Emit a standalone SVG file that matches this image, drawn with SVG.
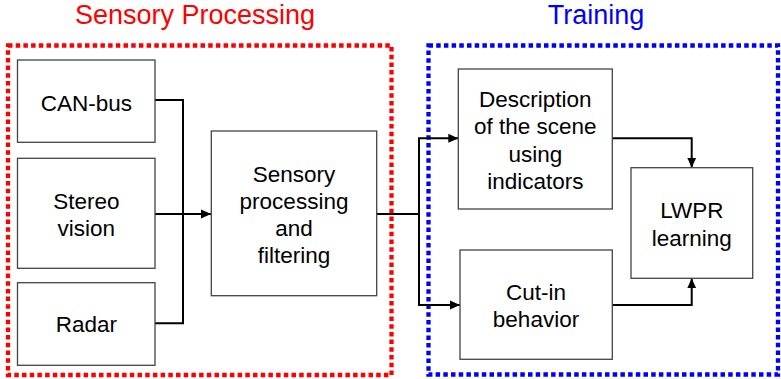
<svg xmlns="http://www.w3.org/2000/svg" width="781" height="379" viewBox="0 0 781 379">
  <style>
    .title { font-family: "Liberation Sans", Arial, sans-serif; font-size: 27px; text-anchor: middle; }
    .label { font-family: "Liberation Sans", Arial, sans-serif; font-size: 22.5px; text-anchor: middle; fill: #000; }
    .box { fill: #fff; stroke: #444; stroke-width: 1.3; }
    .group { fill: none; stroke-width: 4.3; stroke-dasharray: 4.5 3.2; }
    .wire { fill: none; stroke: #000; stroke-width: 2; }
  </style>
  <defs>
    <marker id="arrow" viewBox="0 0 10 10" refX="10" refY="5" markerWidth="10" markerHeight="10" markerUnits="userSpaceOnUse" orient="auto">
      <path d="M0,0.5 L10,5 L0,9.5 Z" fill="#000"/>
    </marker>
  </defs>
  <rect width="781" height="379" fill="#fff"/>

  <!-- group frames -->
  <g id="sensory-group">
    <rect class="group" x="8" y="45.5" width="383.5" height="329.5" stroke="#ff0000"/>
    <text class="title" x="195" y="24" fill="#ff0000">Sensory Processing</text>
  </g>
  <g id="training-group">
    <rect class="group" x="428.5" y="45.5" width="349.5" height="329" stroke="#0000ff"/>
    <text class="title" x="596" y="24" fill="#0000ff">Training</text>
  </g>

  <!-- connectors -->
  <g id="connectors">
    <polyline class="wire" points="155,100 183,100 183,323.3 155,323.3"/>
    <line class="wire" x1="155" y1="214" x2="211" y2="214" marker-end="url(#arrow)"/>
    <polyline class="wire" points="376.7,214 419,214"/>
    <polyline class="wire" points="419,305 419,138.3 458.3,138.3" marker-end="url(#arrow)"/>
    <polyline class="wire" points="419,138.3 419,305 460,305" marker-end="url(#arrow)"/>
    <polyline class="wire" points="612.3,138.3 691.7,138.3 691.7,167.7" marker-end="url(#arrow)"/>
    <polyline class="wire" points="612.3,305 691.7,305 691.7,278.3" marker-end="url(#arrow)"/>
  </g>

  <!-- nodes -->
  <g id="can-bus">
    <rect class="box" x="17.5" y="60" width="137.5" height="82.3"/>
    <text class="label" x="86.3" y="111">CAN-bus</text>
  </g>
  <g id="stereo-vision">
    <rect class="box" x="17.5" y="158.3" width="137.5" height="110"/>
    <text class="label" x="86.3" y="209.3">Stereo</text>
    <text class="label" x="86.3" y="236.3">vision</text>
  </g>
  <g id="radar">
    <rect class="box" x="17.5" y="282.7" width="137.5" height="82.6"/>
    <text class="label" x="86.3" y="332.3">Radar</text>
  </g>
  <g id="sensory-processing">
    <rect class="box" x="211.3" y="131" width="165.4" height="164.7"/>
    <text class="label" x="294" y="182">Sensory</text>
    <text class="label" x="294" y="209.3">processing</text>
    <text class="label" x="294" y="236.3">and</text>
    <text class="label" x="294" y="263.3">filtering</text>
  </g>
  <g id="scene-description">
    <rect class="box" x="458.3" y="69" width="154" height="140"/>
    <text class="label" x="535.3" y="106.7">Description</text>
    <text class="label" x="535.3" y="134.2">of the scene</text>
    <text class="label" x="535.3" y="161.7">using</text>
    <text class="label" x="535.3" y="189">indicators</text>
  </g>
  <g id="cut-in-behavior">
    <rect class="box" x="460" y="250" width="152.3" height="109.3"/>
    <text class="label" x="536" y="300">Cut-in</text>
    <text class="label" x="536" y="326.7">behavior</text>
  </g>
  <g id="lwpr-learning">
    <rect class="box" x="631" y="167.7" width="121.7" height="110.6"/>
    <text class="label" x="691.8" y="218.3">LWPR</text>
    <text class="label" x="691.8" y="246">learning</text>
  </g>
</svg>
